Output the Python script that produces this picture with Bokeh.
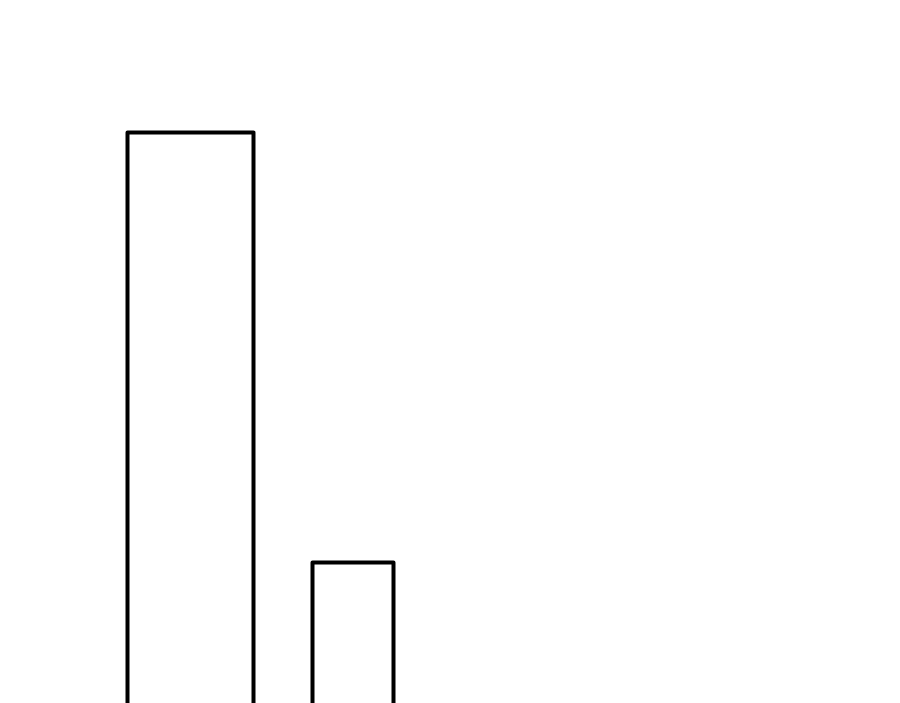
from bokeh.plotting import figure
from bokeh.models import Range1d
from bokeh.embed import file_html
from bokeh.resources import INLINE

# bar edges and heights (data units)
bar_left = [1.19, 3.04]
bar_right = [2.45, 3.85]
bar_top = [6.71, 2.41]
bar_bottom = [0.0, 0.0]

p = figure(width=892, height=703, output_backend="svg", toolbar_location=None,
           x_range=Range1d(-0.08, 8.84), y_range=Range1d(1.00, 8.03),
           min_border=0, min_border_left=0, min_border_right=0,
           min_border_top=0, min_border_bottom=0)
p.axis.visible = False
p.grid.visible = False
p.outline_line_color = None
p.background_fill_color = "white"
p.border_fill_color = "white"

p.quad(left=bar_left, right=bar_right, top=bar_top, bottom=bar_bottom,
       fill_color="white", line_color="black", line_width=4,
       line_join="round")

open("out.html", "w").write(file_html(p, INLINE))
